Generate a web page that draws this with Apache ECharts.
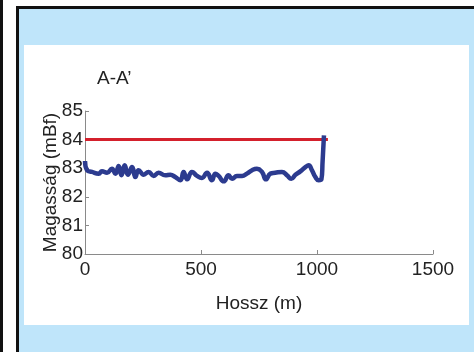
<!DOCTYPE html>
<html>
<head>
<meta charset="utf-8">
<script src="https://cdn.jsdelivr.net/npm/echarts@6/dist/echarts.min.js"></script>
<style>
html,body{margin:0;padding:0;background:#fff;}
#c{width:474px;height:352px;}
</style>
</head>
<body>
<div id="c"></div>
<script>
var title = "A-A’";
var xName = "Hossz (m)";
var yName = "Magasság (mBf)";
var xTicks = [0, 500, 1000, 1500];
var yTicks = [80, 81, 82, 83, 84, 85];
var profileX = [0, 9, 30, 59, 73, 95, 116, 131, 145, 157, 171, 185, 203, 217, 231, 253, 274, 296, 317, 346, 368, 389, 411, 425, 440, 461, 483, 504, 526, 547, 562, 576, 598, 619, 634, 655, 677, 698, 720, 741, 763, 780, 799, 820, 849, 871, 889, 907, 928, 950, 964, 978, 993, 1007, 1019, 1024, 1030];
var profileY = [83.25, 82.93, 82.87, 82.81, 82.89, 82.84, 82.98, 82.81, 83.08, 82.75, 83.10, 82.77, 83.04, 82.69, 82.93, 82.77, 82.87, 82.73, 82.84, 82.75, 82.77, 82.69, 82.58, 82.87, 82.61, 82.87, 82.73, 82.66, 82.84, 82.58, 82.81, 82.73, 82.54, 82.75, 82.63, 82.73, 82.73, 82.81, 82.93, 82.98, 82.87, 82.61, 82.81, 82.84, 82.87, 82.75, 82.63, 82.77, 82.89, 83.04, 83.10, 82.93, 82.69, 82.58, 82.61, 83.22, 84.15];
var refX = [0, 1047];
var refY = [84, 84];

var chart = echarts.init(document.getElementById('c'), null, {renderer: 'canvas'});
var font = 'Liberation Sans, Arial, sans-serif';
var txt = '#222';
var axisCol = '#8a8a8a';
var fs = 19;
chart.setOption({
  animation: false,
  backgroundColor: '#ffffff',
  graphic: [
    {type: 'rect', z: -10, shape: {x: 0, y: 0, width: 3, height: 352}, style: {fill: '#111'}},
    {type: 'rect', z: -10, shape: {x: 16, y: 6, width: 470, height: 360}, style: {fill: '#111'}},
    {type: 'rect', z: -9, shape: {x: 19, y: 9, width: 470, height: 360}, style: {fill: '#bfe5fa'}},
    {type: 'rect', z: -8, shape: {x: 24, y: 45, width: 445, height: 280}, style: {fill: '#ffffff'}},
    {type: 'text', z: 5, left: 97, top: 69, style: {text: title, font: fs + 'px ' + font, fill: txt}}
  ],
  grid: {left: 85, right: 41, top: 111, bottom: 98, containLabel: false},
  xAxis: {
    type: 'value', min: xTicks[0], max: xTicks[xTicks.length - 1], interval: 500,
    name: xName, nameLocation: 'middle', nameGap: 40, nameMoveOverlap: false,
    nameTextStyle: {fontFamily: font, fontSize: fs, color: txt},
    axisLine: {show: true, lineStyle: {color: axisCol, width: 1}},
    axisTick: {show: true, inside: true, length: 4, lineStyle: {color: axisCol}},
    axisLabel: {fontFamily: font, fontSize: fs, color: txt, margin: 6, formatter: function (v) { return String(v); }},
    splitLine: {show: false}
  },
  yAxis: {
    type: 'value', min: yTicks[0], max: yTicks[yTicks.length - 1], interval: 1,
    name: yName, nameLocation: 'middle', nameGap: 25, nameRotate: 90, nameMoveOverlap: false,
    nameTextStyle: {fontFamily: font, fontSize: fs, color: txt},
    axisLine: {show: true, lineStyle: {color: axisCol, width: 1}},
    axisTick: {show: true, inside: true, length: 4, lineStyle: {color: axisCol}},
    axisLabel: {fontFamily: font, fontSize: fs, color: txt, margin: 2, formatter: function (v) { return String(v); }},
    splitLine: {show: false}
  },
  series: [
    {
      type: 'line', data: refX.map(function (x, i) { return [x, refY[i]]; }),
      showSymbol: false, lineStyle: {color: '#d4202c', width: 3}, z: 2
    },
    {
      type: 'line', data: profileX.map(function (x, i) { return [x, profileY[i]]; }),
      showSymbol: false, smooth: 0.5, lineStyle: {color: '#2c3b8f', width: 4.5}, z: 3
    }
  ]
});
</script>
</body>
</html>
